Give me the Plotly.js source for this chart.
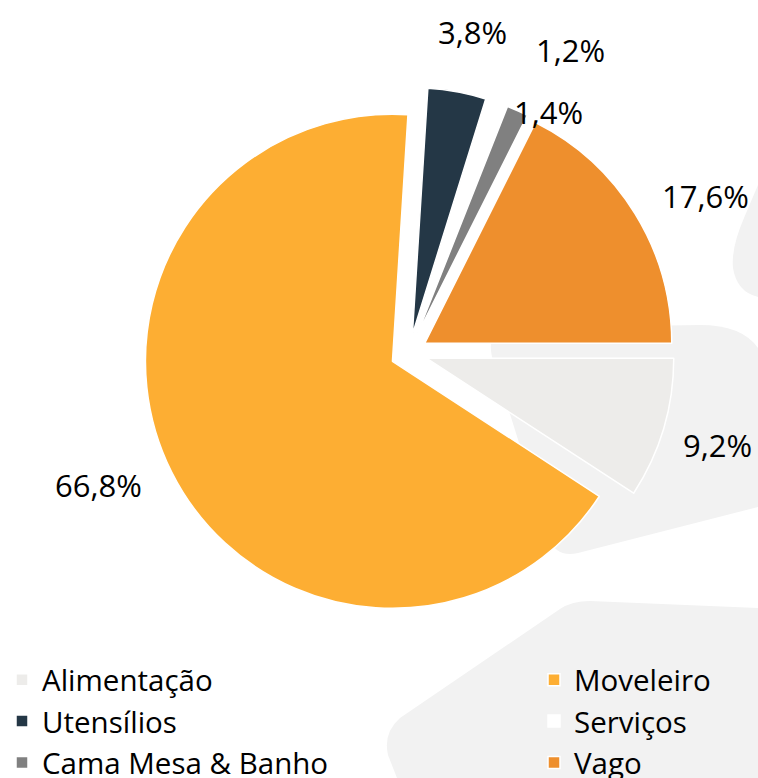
<!DOCTYPE html>
<html>
<head>
<meta charset="utf-8">
<script src="https://cdn.plot.ly/plotly-3.0.1.min.js"></script>
<style>
html, body { margin: 0; padding: 0; overflow: hidden; background: #ffffff; }
#chart { width: 1100px; height: 778px; }
</style>
</head>
<body>
<div id="chart"></div>
<script>
// ---- data ----
var categories = ['Alimentação', 'Moveleiro', 'Utensílios', 'Serviços', 'Cama Mesa & Banho', 'Vago'];
var shares = [9.2, 66.8, 3.8, 1.2, 1.4, 17.6];
var sliceColors = ['#EDECEA', '#FDAE33', '#243746', '#FFFFFF', '#808080', '#EE8F2D'];

// label placement (style): distance from centre in radii, and angular shift in degrees
var labelRadius = [1.305, 1.368, 1.324, 1.389, 1.126, 1.357];
var labelAngleShift = [0.0, 3.6, 0.7, 8.6, 5.9, 3.8];

var percentLabels = shares.map(function (v) { return v.toFixed(1).replace('.', ',') + '%'; });

// ---- page geometry (pixels) ----
var W = 1100, H = 778;
var CX = 409, CY = 353, R = 247, PULL = 0.075;
var ROTATION = 90; // first slice starts at 3 o'clock, clockwise
function px(x) { return x / W; }
function py(y) { return 1 - y / H; }
function pathFromPixels(cmds) {
  return cmds.map(function (c) {
    var s = c[0];
    for (var i = 1; i < c.length; i += 2) {
      s += ' ' + px(c[i]).toFixed(5) + ',' + py(c[i + 1]).toFixed(5);
    }
    return s;
  }).join(' ') + ' Z';
}

var wmColor = '#F2F2F2';
var shapes = [
  {
    type: 'path', xref: 'paper', yref: 'paper', layer: 'below',
    fillcolor: wmColor, line: { width: 0 },
    path: pathFromPixels([['M', 510, 328], ['L', 700, 325], ['Q', 742, 325, 758, 348], ['L', 758, 507],
      ['L', 578, 553], ['Q', 556, 558, 549, 538], ['L', 492, 357], ['Q', 486, 329, 510, 328]])
  },
  {
    type: 'path', xref: 'paper', yref: 'paper', layer: 'below',
    fillcolor: wmColor, line: { width: 0 },
    path: pathFromPixels([['M', 758, 185], ['L', 744, 218], ['Q', 731, 248, 733, 268],
      ['Q', 737, 292, 758, 297]])
  },
  {
    type: 'path', xref: 'paper', yref: 'paper', layer: 'below',
    fillcolor: wmColor, line: { width: 0 },
    path: pathFromPixels([['M', 590, 601], ['L', 758, 608], ['L', 758, 778], ['L', 397, 778],
      ['L', 388, 755], ['Q', 383, 733, 400, 718], ['L', 560, 609], ['Q', 572, 601, 590, 601]])
  }
];

// percentage labels placed around the pie from each slice's mid angle
var total = shares.reduce(function (a, b) { return a + b; }, 0);
var annotations = [];
var cum = 0;
shares.forEach(function (v, i) {
  var midFrac = (cum + v / 2) / total;
  cum += v;
  var ang = (ROTATION + midFrac * 360 + labelAngleShift[i]) * Math.PI / 180;
  var dist = R * labelRadius[i];
  var x = CX + dist * Math.sin(ang);
  var y = CY - dist * Math.cos(ang);
  annotations.push({
    xref: 'paper', yref: 'paper', x: px(x), y: py(y),
    xanchor: 'center', yanchor: 'middle', showarrow: false,
    text: percentLabels[i],
    font: { family: 'Open Sans, sans-serif', size: 31, color: '#000000' }
  });
});

var half = R * (1 + PULL);
var trace = {
  type: 'pie',
  labels: categories,
  values: shares,
  text: percentLabels,
  textinfo: 'none',
  sort: false,
  direction: 'clockwise',
  rotation: ROTATION,
  pull: PULL,
  marker: { colors: sliceColors, line: { color: '#FFFFFF', width: 1.5 } },
  domain: { x: [px(CX - half), px(CX + half)], y: [py(CY + half), py(CY - half)] },
  hoverinfo: 'label+text'
};

var layout = {
  width: W,
  height: H,
  margin: { l: 0, r: 0, t: 0, b: 0, pad: 0, autoexpand: false },
  paper_bgcolor: '#FFFFFF',
  showlegend: true,
  legend: {
    orientation: 'h',
    x: px(2), xanchor: 'left',
    y: py(654), yanchor: 'top',
    entrywidth: 487, entrywidthmode: 'pixels',
    traceorder: 'normal',
    bgcolor: 'rgba(0,0,0,0)',
    font: { family: 'Open Sans, sans-serif', size: 29.5, color: '#000000' }
  },
  shapes: shapes,
  annotations: annotations
};

Plotly.newPlot('chart', [trace], layout, { displayModeBar: false, staticPlot: true });
</script>
</body>
</html>
